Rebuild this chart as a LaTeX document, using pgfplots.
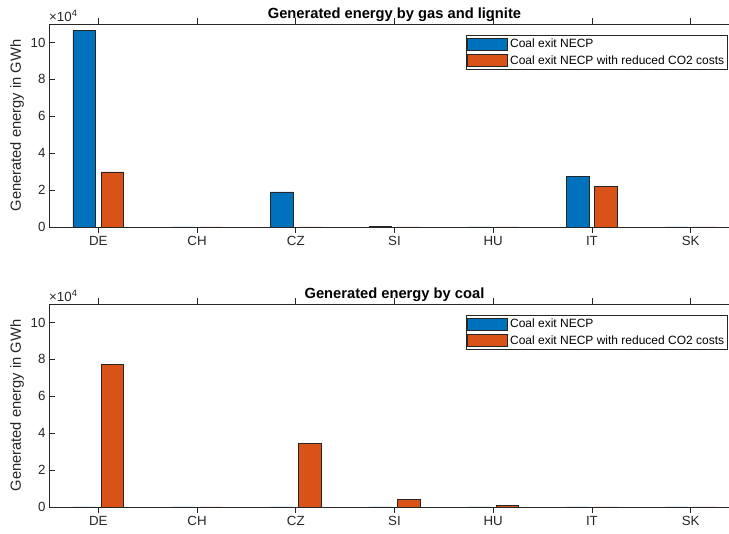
\documentclass[border=0pt]{standalone}
\usepackage{pgfplots}
\pgfplotsset{compat=1.18}
\usepackage{fontspec}
\setmainfont{Liberation Sans}
\definecolor{mblue}{RGB}{0,114,189}
\definecolor{morange}{RGB}{217,83,25}
\definecolor{axgray}{RGB}{38,38,38}
\pgfplotsset{
 mystyle/.style={
  scale only axis, width=691pt, height=203pt, anchor=south west,
  xmin=0.5, xmax=7.5, ymin=0, ymax=110000,
  xtick={1,...,7}, xticklabels={DE,CH,CZ,SI,HU,IT,SK},
  ytick={0,20000,40000,60000,80000,100000}, yticklabels={0,2,4,6,8,10},
  scaled y ticks=false,
  tick align=inside, major tick length=6pt,
  axis line style={axgray, line width=0.6pt},
  every tick/.style={axgray, line width=0.6pt},
  tick label style={font=\fontsize{13.3}{15}\selectfont, text=axgray},
  /pgf/number format/assume math mode=true,
  ylabel={Generated energy in GWh},
  ylabel style={font=\fontsize{14.7}{17}\selectfont, text=axgray},
  title style={font=\bfseries\fontsize{14.7}{17}\selectfont, yshift=-7pt},
  clip=false,
  ybar, bar width=0.229,
  legend style={at={(0.9826,0.9458)}, anchor=north east, font=\fontsize{12}{14}\selectfont, draw=axgray, line width=0.6pt, inner sep=1.5pt, row sep=2.5pt},
  legend cell align=left,
 },
 myplot/.style={draw=black!85, line width=0.6pt, legend image code/.code={\draw[##1] (0pt,-6pt) rectangle (40pt,6pt);}},
}
\begin{document}
\begin{tikzpicture}
\useasboundingbox (0,0) rectangle (729pt,534pt);
\clip (0,0) rectangle (729pt,534pt);
\begin{axis}[mystyle, at={(49pt,307pt)}, title={Generated energy by gas and lignite}]
\addplot[myplot, fill=mblue, bar shift=-0.143] coordinates {(1,106700) (2,0) (3,19000) (4,150) (5,0) (6,27300) (7,0)};
\addplot[myplot, fill=morange, bar shift=0.143] coordinates {(1,29800) (2,0) (3,0) (4,0) (5,0) (6,21900) (7,0)};
\legend{Coal exit NECP, Coal exit NECP with reduced CO2 costs}
\node[anchor=south west, inner sep=0pt, yshift=2pt, font=\fontsize{13.3}{15}\selectfont, text=axgray] at (rel axis cs:0,1) {×10\textsuperscript{4}};
\end{axis}
\begin{axis}[mystyle, at={(49pt,27pt)}, title={Generated energy by coal}]
\addplot[myplot, fill=mblue, bar shift=-0.143] coordinates {(1,0) (2,0) (3,0) (4,0) (5,0) (6,0) (7,0)};
\addplot[myplot, fill=morange, bar shift=0.143] coordinates {(1,77400) (2,0) (3,34300) (4,4200) (5,800) (6,0) (7,0)};
\legend{Coal exit NECP, Coal exit NECP with reduced CO2 costs}
\node[anchor=south west, inner sep=0pt, yshift=2pt, font=\fontsize{13.3}{15}\selectfont, text=axgray] at (rel axis cs:0,1) {×10\textsuperscript{4}};
\end{axis}
\end{tikzpicture}
\end{document}
